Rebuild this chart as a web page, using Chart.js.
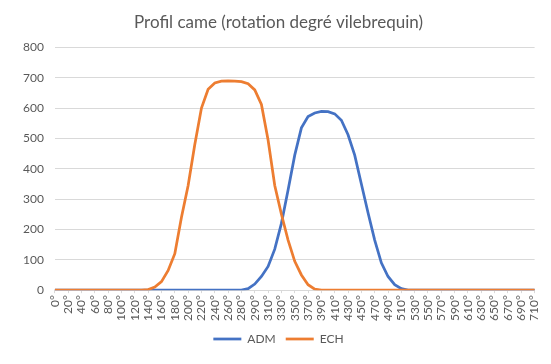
<!DOCTYPE html>
<html>
<head>
<meta charset="utf-8">
<script src="https://cdn.jsdelivr.net/npm/chart.js@4.4.1/dist/chart.umd.min.js"></script>
<style>
  html, body { margin: 0; padding: 0; background: #fff; }
  #wrap { width: 551px; height: 364px; position: relative; }
</style>
</head>
<body>
<div id="wrap"><canvas id="cameChart"></canvas></div>
<script>
// Angles vilebrequin (categories)
const angles = [
    '0°', '10°', '20°', '30°', '40°', '50°', '60°', '70°', '80°', '90°',
    '100°', '110°', '120°', '130°', '140°', '150°', '160°', '170°', '180°', '190°',
    '200°', '210°', '220°', '230°', '240°', '250°', '260°', '270°', '280°', '285°',
    '290°', '300°', '310°', '320°', '330°', '340°', '350°', '360°', '370°', '380°',
    '390°', '400°', '410°', '420°', '430°', '440°', '450°', '460°', '470°', '480°',
    '490°', '500°', '510°', '520°', '530°', '540°', '550°', '560°', '570°', '580°',
    '590°', '600°', '610°', '620°', '630°', '640°', '650°', '660°', '670°', '680°',
    '690°', '700°', '710°'
];

// Levee admission
const adm = [
    0, 0, 0, 0, 0, 0, 0, 0, 0, 0,
    0, 0, 0, 0, 0, 0, 0, 0, 0, 0,
    0, 0, 0, 0, 0, 0, 0, 0, 0, 5,
    20, 45, 78, 135, 220, 330, 445, 535, 572, 584,
    589, 588, 581, 560, 512, 445, 350, 255, 165, 90,
    45, 18, 5, 0, 0, 0, 0, 0, 0, 0,
    0, 0, 0, 0, 0, 0, 0, 0, 0, 0,
    0, 0, 0
];

// Levee echappement
const ech = [
    0, 0, 0, 0, 0, 0, 0, 0, 0, 0,
    0, 0, 0, 0, 2, 10, 28, 65, 120, 240,
    345, 480, 600, 662, 683, 689, 690, 689, 687, 680,
    660, 612, 495, 345, 250, 165, 95, 50, 18, 3,
    0, 0, 0, 0, 0, 0, 0, 0, 0, 0,
    0, 0, 0, 0, 0, 0, 0, 0, 0, 0,
    0, 0, 0, 0, 0, 0, 0, 0, 0, 0,
    0, 0, 0
];

const yTicks = [0, 100, 200, 300, 400, 500, 600, 700, 800];

const FONT = "Lato, 'Open Sans', sans-serif";
const TEXT_COLOR = '#595959';
const GRID_COLOR = '#d9d9d9';

Chart.defaults.font.family = FONT;
Chart.defaults.color = TEXT_COLOR;

const ctx = document.getElementById('cameChart').getContext('2d');
window.cameChart = new Chart(ctx, {
    type: 'line',
    data: {
        labels: angles,
        datasets: [
            {
                label: 'ADM',
                data: adm,
                borderColor: '#4472c4',
                backgroundColor: '#4472c4',
                borderWidth: 2.75,
                pointRadius: 0,
                pointStyle: 'line',
                tension: 0,
                order: 1
            },
            {
                label: 'ECH',
                data: ech,
                borderColor: '#ed7d31',
                backgroundColor: '#ed7d31',
                borderWidth: 2.75,
                pointRadius: 0,
                pointStyle: 'line',
                tension: 0,
                order: 0
            }
        ]
    },
    options: {
        responsive: true,
        maintainAspectRatio: false,
        animation: false,
        devicePixelRatio: 1,
        layout: { padding: { left: 12, right: 6, top: 0, bottom: 9 } },
        plugins: {
            title: {
                display: true,
                text: 'Profil came (rotation degré vilebrequin)',
                color: TEXT_COLOR,
                font: { size: 17, weight: 'normal', family: FONT },
                padding: { top: 12, bottom: 15 }
            },
            legend: {
                position: 'bottom',
                labels: {
                    usePointStyle: true,
                    pointStyleWidth: 28,
                    boxHeight: 3,
                    color: TEXT_COLOR,
                    font: { size: 12, family: FONT },
                    padding: 10,
                    sort: (a, b) => a.datasetIndex - b.datasetIndex
                }
            },
            tooltip: { enabled: false }
        },
        scales: {
            x: {
                offset: false,
                grid: {
                    drawOnChartArea: false,
                    drawTicks: true,
                    tickLength: 3,
                    color: GRID_COLOR
                },
                border: { color: GRID_COLOR },
                ticks: {
                    autoSkip: false,
                    maxRotation: 90,
                    minRotation: 90,
                    padding: 2,
                    color: TEXT_COLOR,
                    font: { size: 12, family: FONT },
                    callback: function (value, index) {
                        return index % 2 === 0 ? this.getLabelForValue(value) : null;
                    }
                }
            },
            y: {
                min: yTicks[0],
                max: yTicks[yTicks.length - 1],
                afterBuildTicks: (scale) => {
                    scale.ticks = yTicks.map(v => ({ value: v }));
                },
                grid: { color: GRID_COLOR, drawTicks: false },
                border: { display: false },
                ticks: {
                    padding: 11,
                    color: TEXT_COLOR,
                    font: { size: 12, family: FONT }
                }
            }
        }
    }
});
</script>
</body>
</html>
